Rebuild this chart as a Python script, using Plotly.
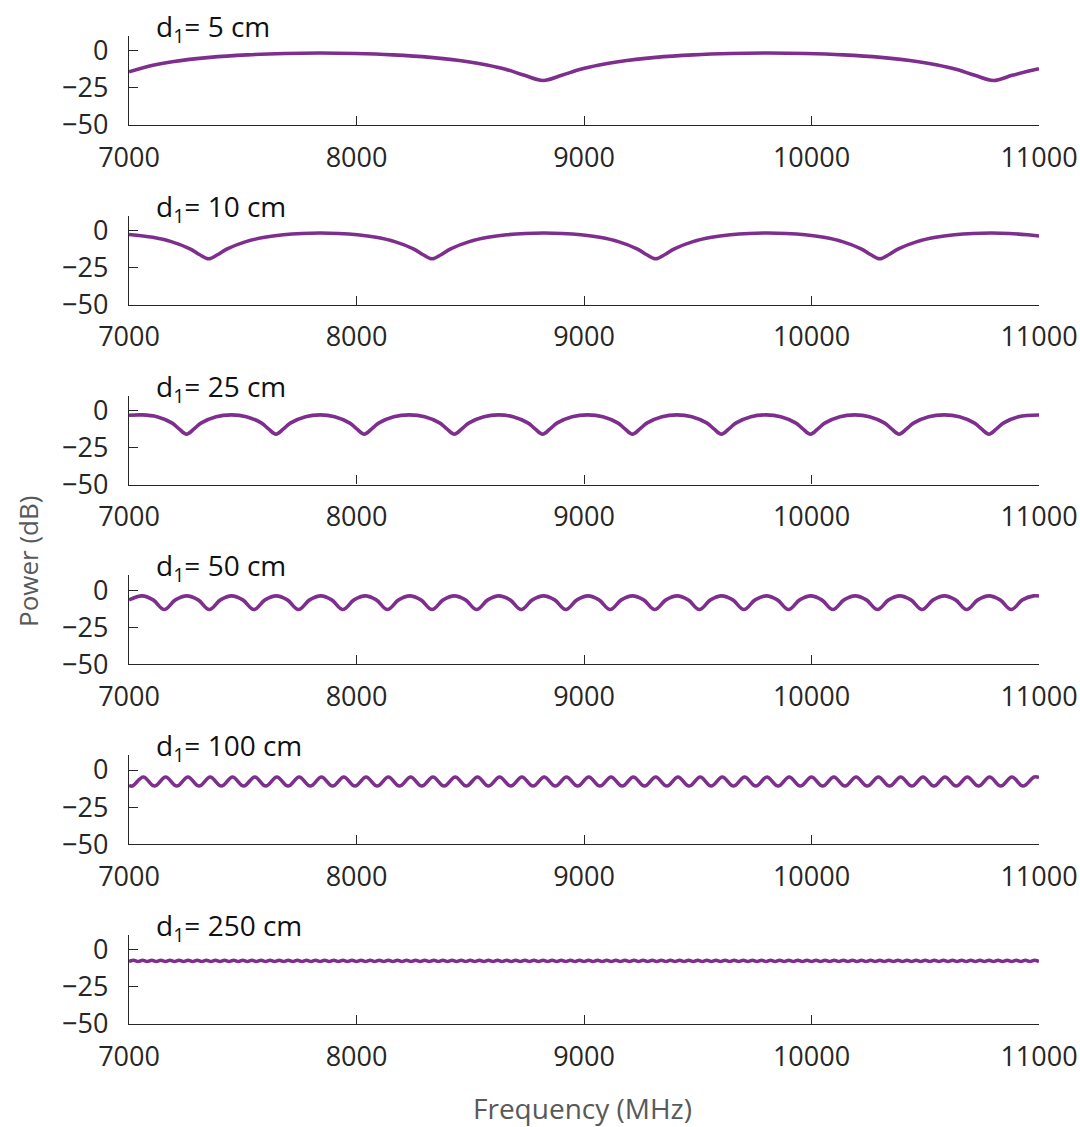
import plotly.graph_objects as go

W, H = 1080, 1127
PURPLE = "rgb(126,47,142)"
AXIS = "#262626"
FONT = "Open Sans"

labels = ["5 cm", "10 cm", "25 cm", "50 cm", "100 cm", "250 cm"]
x_tickvals = [7000, 8000, 9000, 10000, 11000]
x_ticktext = ["7000", "8000", "9000", "10000", "11000"]
y_tickvals = [0, -25, -50]
y_ticktext = ["0", "\u221225", "\u221250"]

# ---- d1 = 5 cm ----
f_5cm = [7000, 7070, 7110, 7190, 7355, 7520, 7685, 7840, 7995, 8160, 8325, 8490,
         8573, 8655, 8738, 8820, 8902, 8985, 9067, 9150, 9315, 9480, 9645, 9810,
         9975, 10140, 10305, 10470, 10553, 10635, 10718, 10800, 10882, 10960, 11000]
p_5cm = [-14.2, -11.0, -9.5, -7.3, -4.4, -2.7, -1.8, -1.5, -1.8, -2.7, -4.4, -7.3,
         -9.5, -12.4, -16.5, -20.0, -16.5, -12.4, -9.5, -7.3, -4.4, -2.7, -1.8, -1.5,
         -1.8, -2.7, -4.4, -7.3, -9.5, -12.4, -16.5, -20.0, -16.5, -13.5, -12.0]

# ---- d1 = 10 cm ----
f_10cm = [7000, 7104, 7186, 7268, 7309, 7350, 7391, 7432, 7514, 7596, 7678, 7760, 7841,
          7922, 8004, 8086, 8168, 8250, 8291, 8332, 8373, 8414, 8496, 8578, 8660, 8742, 8823,
          8905, 8987, 9069, 9151, 9233, 9274, 9315, 9356, 9397, 9479, 9561, 9643, 9725, 9807,
          9890, 9972, 10054, 10136, 10218, 10259, 10300, 10341, 10382, 10464, 10546, 10628, 10710, 10790,
          10870, 10950, 11000]
p_10cm = [-2.6, -4.5, -7.4, -12.3, -16.1, -19.0, -16.1, -12.3, -7.4, -4.5, -2.8, -1.9, -1.6,
          -1.9, -2.8, -4.5, -7.4, -12.3, -16.1, -19.0, -16.1, -12.3, -7.4, -4.5, -2.8, -1.9, -1.6,
          -1.9, -2.8, -4.5, -7.4, -12.3, -16.1, -19.0, -16.1, -12.3, -7.4, -4.5, -2.8, -1.9, -1.6,
          -1.9, -2.8, -4.5, -7.4, -12.3, -16.1, -19.0, -16.1, -12.3, -7.4, -4.5, -2.8, -1.9, -1.6,
          -1.9, -2.8, -3.6]

# ---- d1 = 25 cm ----
f_25cm = [7000, 7057,
          7123, 7188, 7220, 7253, 7286, 7318, 7383, 7450,
          7516, 7581, 7613, 7646, 7679, 7711, 7776, 7840,
          7904, 7969, 8001, 8034, 8067, 8099, 8164, 8232,
          8300, 8365, 8397, 8430, 8463, 8495, 8560, 8624,
          8688, 8753, 8785, 8818, 8851, 8883, 8948, 9016,
          9083, 9148, 9180, 9213, 9246, 9278, 9343, 9408,
          9474, 9539, 9571, 9604, 9637, 9669, 9734, 9800,
          9865, 9930, 9962, 9995, 10028, 10060, 10125, 10190,
          10255, 10320, 10352, 10385, 10418, 10450, 10515, 10583,
          10650, 10715, 10747, 10780, 10813, 10845, 10910, 11000]
p_25cm = [-3.3, -3.0,
          -4.2, -8.4, -12.4, -16.0, -12.4, -8.4, -4.2, -3.0,
          -4.2, -8.4, -12.4, -16.0, -12.4, -8.4, -4.2, -3.0,
          -4.2, -8.4, -12.4, -16.0, -12.4, -8.4, -4.2, -3.0,
          -4.2, -8.4, -12.4, -16.0, -12.4, -8.4, -4.2, -3.0,
          -4.2, -8.4, -12.4, -16.0, -12.4, -8.4, -4.2, -3.0,
          -4.2, -8.4, -12.4, -16.0, -12.4, -8.4, -4.2, -3.0,
          -4.2, -8.4, -12.4, -16.0, -12.4, -8.4, -4.2, -3.0,
          -4.2, -8.4, -12.4, -16.0, -12.4, -8.4, -4.2, -3.0,
          -4.2, -8.4, -12.4, -16.0, -12.4, -8.4, -4.2, -3.0,
          -4.2, -8.4, -12.4, -16.0, -12.4, -8.4, -4.2, -3.1]

# ---- d1 = 50 cm ----
f_50cm = [7000, 7057,
          7106, 7155, 7204, 7254,
          7304, 7353, 7402, 7451,
          7500, 7549, 7598, 7647,
          7696, 7745, 7794, 7843,
          7891, 7940, 7989, 8038,
          8087, 8136, 8185, 8234,
          8283, 8332, 8381, 8430,
          8479, 8528, 8577, 8626,
          8675, 8724, 8773, 8822,
          8871, 8920, 8969, 9018,
          9066, 9115, 9164, 9213,
          9262, 9311, 9360, 9409,
          9458, 9507, 9556, 9605,
          9654, 9703, 9752, 9801,
          9850, 9899, 9948, 9997,
          10045, 10094, 10143, 10192,
          10241, 10290, 10339, 10388,
          10437, 10486, 10535, 10584,
          10633, 10682, 10731, 10780,
          10829, 10878, 10927, 10976,
          11000]
p_50cm = [-6.5, -3.8,
          -6.5, -13.0, -6.5, -3.8,
          -6.5, -13.0, -6.5, -3.8,
          -6.5, -13.0, -6.5, -3.8,
          -6.5, -13.0, -6.5, -3.8,
          -6.5, -13.0, -6.5, -3.8,
          -6.5, -13.0, -6.5, -3.8,
          -6.5, -13.0, -6.5, -3.8,
          -6.5, -13.0, -6.5, -3.8,
          -6.5, -13.0, -6.5, -3.8,
          -6.5, -13.0, -6.5, -3.8,
          -6.5, -13.0, -6.5, -3.8,
          -6.5, -13.0, -6.5, -3.8,
          -6.5, -13.0, -6.5, -3.8,
          -6.5, -13.0, -6.5, -3.8,
          -6.5, -13.0, -6.5, -3.8,
          -6.5, -13.0, -6.5, -3.8,
          -6.5, -13.0, -6.5, -3.8,
          -6.5, -13.0, -6.5, -3.8,
          -6.5, -13.0, -6.5, -3.8,
          -6.5, -13.0, -6.5, -3.8,
          -3.9]

# ---- d1 = 100 cm ----
f_100cm = [7000,
           7014, 7063, 7112, 7161, 7210, 7259, 7308, 7357, 7406, 7455,
           7504, 7553, 7601, 7650, 7699, 7748, 7797, 7846, 7895, 7944,
           7993, 8042, 8091, 8140, 8189, 8238, 8287, 8336, 8385, 8434,
           8483, 8532, 8580, 8629, 8678, 8727, 8776, 8825, 8874, 8923,
           8972, 9021, 9070, 9119, 9168, 9217, 9266, 9315, 9364, 9413,
           9462, 9511, 9559, 9608, 9657, 9706, 9755, 9804, 9853, 9902,
           9951, 10000, 10049, 10098, 10147, 10196, 10245, 10294, 10343, 10392,
           10441, 10490, 10538, 10587, 10636, 10685, 10734, 10783, 10832, 10881,
           10930, 10979,
           11000]
p_100cm = [-10.3,
           -10.8, -4.7, -10.8, -4.7, -10.8, -4.7, -10.8, -4.7, -10.8, -4.7,
           -10.8, -4.7, -10.8, -4.7, -10.8, -4.7, -10.8, -4.7, -10.8, -4.7,
           -10.8, -4.7, -10.8, -4.7, -10.8, -4.7, -10.8, -4.7, -10.8, -4.7,
           -10.8, -4.7, -10.8, -4.7, -10.8, -4.7, -10.8, -4.7, -10.8, -4.7,
           -10.8, -4.7, -10.8, -4.7, -10.8, -4.7, -10.8, -4.7, -10.8, -4.7,
           -10.8, -4.7, -10.8, -4.7, -10.8, -4.7, -10.8, -4.7, -10.8, -4.7,
           -10.8, -4.7, -10.8, -4.7, -10.8, -4.7, -10.8, -4.7, -10.8, -4.7,
           -10.8, -4.7, -10.8, -4.7, -10.8, -4.7, -10.8, -4.7, -10.8, -4.7,
           -10.8, -4.7,
           -5.0]

# ---- d1 = 250 cm ----
f_250cm = [7000, 7020, 7040, 7060, 7080, 7100, 7120, 7140, 7160, 7180,
           7200, 7220, 7240, 7260, 7280, 7300, 7320, 7340, 7360, 7380,
           7400, 7420, 7440, 7460, 7480, 7500, 7520, 7540, 7560, 7580,
           7600, 7620, 7640, 7660, 7680, 7700, 7720, 7740, 7760, 7780,
           7800, 7820, 7840, 7860, 7880, 7900, 7920, 7940, 7960, 7980,
           8000, 8020, 8040, 8060, 8080, 8100, 8120, 8140, 8160, 8180,
           8200, 8220, 8240, 8260, 8280, 8300, 8320, 8340, 8360, 8380,
           8400, 8420, 8440, 8460, 8480, 8500, 8520, 8540, 8560, 8580,
           8600, 8620, 8640, 8660, 8680, 8700, 8720, 8740, 8760, 8780,
           8800, 8820, 8840, 8860, 8880, 8900, 8920, 8940, 8960, 8980,
           9000, 9020, 9040, 9060, 9080, 9100, 9120, 9140, 9160, 9180,
           9200, 9220, 9240, 9260, 9280, 9300, 9320, 9340, 9360, 9380,
           9400, 9420, 9440, 9460, 9480, 9500, 9520, 9540, 9560, 9580,
           9600, 9620, 9640, 9660, 9680, 9700, 9720, 9740, 9760, 9780,
           9800, 9820, 9840, 9860, 9880, 9900, 9920, 9940, 9960, 9980,
           10000, 10020, 10040, 10060, 10080, 10100, 10120, 10140, 10160, 10180,
           10200, 10220, 10240, 10260, 10280, 10300, 10320, 10340, 10360, 10380,
           10400, 10420, 10440, 10460, 10480, 10500, 10520, 10540, 10560, 10580,
           10600, 10620, 10640, 10660, 10680, 10700, 10720, 10740, 10760, 10780,
           10800, 10820, 10840, 10860, 10880, 10900, 10920, 10940, 10960, 10980,
           11000]
p_250cm = [-7.9, -7.0, -7.9, -7.0, -7.9, -7.0, -7.9, -7.0, -7.9, -7.0,
           -7.9, -7.0, -7.9, -7.0, -7.9, -7.0, -7.9, -7.0, -7.9, -7.0,
           -7.9, -7.0, -7.9, -7.0, -7.9, -7.0, -7.9, -7.0, -7.9, -7.0,
           -7.9, -7.0, -7.9, -7.0, -7.9, -7.0, -7.9, -7.0, -7.9, -7.0,
           -7.9, -7.0, -7.9, -7.0, -7.9, -7.0, -7.9, -7.0, -7.9, -7.0,
           -7.9, -7.0, -7.9, -7.0, -7.9, -7.0, -7.9, -7.0, -7.9, -7.0,
           -7.9, -7.0, -7.9, -7.0, -7.9, -7.0, -7.9, -7.0, -7.9, -7.0,
           -7.9, -7.0, -7.9, -7.0, -7.9, -7.0, -7.9, -7.0, -7.9, -7.0,
           -7.9, -7.0, -7.9, -7.0, -7.9, -7.0, -7.9, -7.0, -7.9, -7.0,
           -7.9, -7.0, -7.9, -7.0, -7.9, -7.0, -7.9, -7.0, -7.9, -7.0,
           -7.9, -7.0, -7.9, -7.0, -7.9, -7.0, -7.9, -7.0, -7.9, -7.0,
           -7.9, -7.0, -7.9, -7.0, -7.9, -7.0, -7.9, -7.0, -7.9, -7.0,
           -7.9, -7.0, -7.9, -7.0, -7.9, -7.0, -7.9, -7.0, -7.9, -7.0,
           -7.9, -7.0, -7.9, -7.0, -7.9, -7.0, -7.9, -7.0, -7.9, -7.0,
           -7.9, -7.0, -7.9, -7.0, -7.9, -7.0, -7.9, -7.0, -7.9, -7.0,
           -7.9, -7.0, -7.9, -7.0, -7.9, -7.0, -7.9, -7.0, -7.9, -7.0,
           -7.9, -7.0, -7.9, -7.0, -7.9, -7.0, -7.9, -7.0, -7.9, -7.0,
           -7.9, -7.0, -7.9, -7.0, -7.9, -7.0, -7.9, -7.0, -7.9, -7.0,
           -7.9, -7.0, -7.9, -7.0, -7.9, -7.0, -7.9, -7.0, -7.9, -7.0,
           -7.9, -7.0, -7.9, -7.0, -7.9, -7.0, -7.9, -7.0, -7.9, -7.0,
           -7.9]

series = [(f_5cm, p_5cm), (f_10cm, p_10cm), (f_25cm, p_25cm),
          (f_50cm, p_50cm), (f_100cm, p_100cm), (f_250cm, p_250cm)]

fig = go.Figure()

X_LEFT, X_RIGHT = 129, 1039
BOTTOM0, STEP, PLOT_H = 125, 179.8, 89

annotations = []
for i, (f, p) in enumerate(series):
    sfx = "" if i == 0 else str(i + 1)
    fig.add_trace(go.Scatter(
        x=f, y=p, mode="lines",
        line=dict(color=PURPLE, width=3.6, shape="spline", smoothing=1.0),
        xaxis="x" + sfx, yaxis="y" + sfx, showlegend=False, hoverinfo="skip"))
    b = BOTTOM0 + STEP * i
    t = b - PLOT_H
    fig.layout["xaxis" + sfx] = dict(
        domain=[X_LEFT / W, X_RIGHT / W], anchor="y" + sfx,
        range=[7000, 11000], tickmode="array",
        tickvals=x_tickvals, ticktext=x_ticktext,
        ticks="inside", ticklen=9, tickwidth=1, tickcolor=AXIS,
        showline=True, linecolor=AXIS, linewidth=1.3,
        showgrid=False, zeroline=False, automargin=False,
        tickfont=dict(family=FONT, size=27, color=AXIS),
        ticklabelstandoff=8)
    fig.layout["yaxis" + sfx] = dict(
        domain=[(H - b) / H, (H - t) / H], anchor="x" + sfx,
        range=[-50, 10], tickmode="array",
        tickvals=y_tickvals, ticktext=y_ticktext,
        ticks="inside", ticklen=9, tickwidth=1, tickcolor=AXIS,
        showline=True, linecolor=AXIS, linewidth=1.3,
        showgrid=False, zeroline=False, automargin=False,
        tickfont=dict(family=FONT, size=27, color=AXIS),
        ticklabelstandoff=14)
    annotations.append(dict(
        text="d<sub>1</sub>= " + labels[i],
        xref="paper", yref="paper", x=154 / W, y=(H - (t - 8)) / H,
        xanchor="left", yanchor="middle", showarrow=False,
        font=dict(family=FONT, size=28, color="#111111")))

annotations.append(dict(
    text="Power (dB)", xref="paper", yref="paper", x=28 / W, y=(H - 562) / H,
    textangle=-90, xanchor="center", yanchor="middle", showarrow=False,
    font=dict(family=FONT, size=26, color="#595959")))
annotations.append(dict(
    text="Frequency (MHz)", xref="paper", yref="paper", x=582 / W, y=(H - 1108) / H,
    xanchor="center", yanchor="middle", showarrow=False,
    font=dict(family=FONT, size=28, color="#595959")))

fig.update_layout(
    width=W, height=H, margin=dict(l=0, r=0, t=0, b=0, autoexpand=False),
    paper_bgcolor="white", plot_bgcolor="white",
    annotations=annotations, showlegend=False)

fig.write_html("out.html")
